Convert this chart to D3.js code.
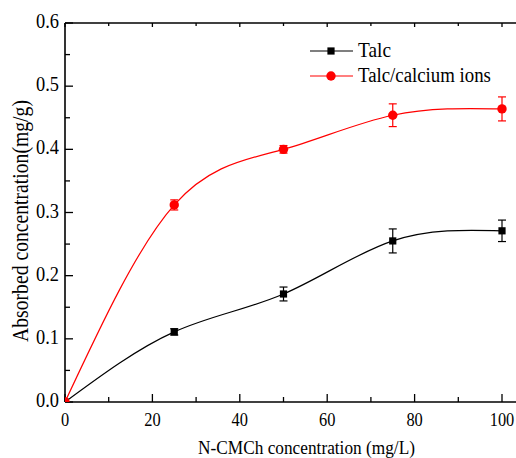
<!DOCTYPE html>
<html>
<head>
<meta charset="utf-8">
<script src="https://cdn.jsdelivr.net/npm/d3@7/dist/d3.min.js"></script>
<style>
  body { margin: 0; background: #fff; }
  svg { display: block; }
  text { font-family: 'Times New Roman', 'Liberation Serif', Tinos, 'DejaVu Serif', serif; }
</style>
</head>
<body>
<svg id="chart" width="516" height="458"></svg>
<script>
const concentrations = [0, 25, 50, 75, 100];
const talcValues = [0, 0.111, 0.171, 0.255, 0.271];
const talcErrors = [0, 0.005, 0.011, 0.019, 0.017];
const calciumValues = [0, 0.312, 0.400, 0.454, 0.464];
const calciumErrors = [0, 0.008, 0.006, 0.018, 0.019];
const seriesNames = ["Talc", "Talc/calcium ions"];
const xTicks = [0, 20, 40, 60, 80, 100];
const yTicks = [0.0, 0.1, 0.2, 0.3, 0.4, 0.5, 0.6];

(function () {
const FONT = "'Times New Roman', 'Liberation Serif', Tinos, 'DejaVu Serif', serif";
const STRETCH = 1.12;
const svg = d3.select("#chart");
const pLeft = 65, pTop = 23, pBottom = 402, xEnd = 502;
const x = d3.scaleLinear().domain([0, 100]).range([pLeft, xEnd]);
const y = d3.scaleLinear().domain([0, 0.6]).range([pBottom, pTop]);
const rightEdge = 530;

// place text at (tx,ty) with rotation and vertical stretch, fitted to a target width
function addText(str, tx, ty, opts) {
  const o = Object.assign({ anchor: "start", size: 18, rotate: 0, width: null }, opts || {});
  const g = svg.append("g").attr("transform", `translate(${tx},${ty}) rotate(${o.rotate}) scale(1,${STRETCH})`);
  const t = g.append("text").attr("font-family", FONT).attr("font-size", o.size)
    .attr("text-anchor", o.anchor).attr("fill", "#000").text(str);
  if (o.width) {
    const len = t.node().getComputedTextLength();
    if (len > 0) t.attr("font-size", o.size * o.width / len);
  }
  return t;
}

svg.append("defs").append("clipPath").attr("id", "clip")
  .append("rect").attr("x", pLeft).attr("y", pTop).attr("width", rightEdge - pLeft).attr("height", pBottom - pTop);

svg.append("line").attr("x1", pLeft).attr("x2", rightEdge).attr("y1", pBottom).attr("y2", pBottom).attr("stroke", "#000").attr("stroke-width", 1.6);
svg.append("line").attr("x1", pLeft).attr("x2", rightEdge).attr("y1", pTop).attr("y2", pTop).attr("stroke", "#000").attr("stroke-width", 1.6);
svg.append("line").attr("x1", pLeft).attr("x2", pLeft).attr("y1", pTop).attr("y2", pBottom).attr("stroke", "#000").attr("stroke-width", 1.6);

const minorX = d3.range(10, 110, 20);
const minorY = d3.range(0.05, 0.6, 0.1);
const tg = svg.append("g").attr("stroke", "#000").attr("stroke-width", 1.3);
xTicks.forEach(v => {
  tg.append("line").attr("x1", x(v)).attr("x2", x(v)).attr("y1", pBottom).attr("y2", pBottom - 8);
  tg.append("line").attr("x1", x(v)).attr("x2", x(v)).attr("y1", pTop).attr("y2", pTop + 4);
});
minorX.forEach(v => {
  tg.append("line").attr("x1", x(v)).attr("x2", x(v)).attr("y1", pBottom).attr("y2", pBottom - 5);
  tg.append("line").attr("x1", x(v)).attr("x2", x(v)).attr("y1", pTop).attr("y2", pTop + 3);
});
yTicks.forEach(v => {
  tg.append("line").attr("x1", pLeft).attr("x2", pLeft + 8).attr("y1", y(v)).attr("y2", y(v));
});
minorY.forEach(v => {
  tg.append("line").attr("x1", pLeft).attr("x2", pLeft + 5).attr("y1", y(v)).attr("y2", y(v));
});

// tick labels: "0.0" is ~23px wide in the reference
xTicks.forEach(v => addText(String(v), x(v), 426, { anchor: "middle", size: 18, width: String(v).length * 8.2 }));
yTicks.forEach(v => addText(v.toFixed(1), 59, y(v) + 5, { anchor: "end", size: 18, width: 23 }));

// axis titles
addText("N-CMCh concentration (mg/L)", 306.5, 454, { anchor: "middle", size: 18, width: 217 });
addText("Absorbed concentration(mg/g)", 28, 221, { anchor: "middle", size: 18, rotate: -90, width: 242 });

const series = [
  { name: seriesNames[0], values: talcValues, errors: talcErrors, color: "#000000", shape: "square", lw: 33 },
  { name: seriesNames[1], values: calciumValues, errors: calciumErrors, color: "#ff0000", shape: "circle", lw: 133 }
];

const line = d3.line().x(d => x(d[0])).y(d => y(d[1])).curve(d3.curveNatural);
const plot = svg.append("g").attr("clip-path", "url(#clip)");

series.forEach(s => {
  const pts = concentrations.map((c, i) => [c, s.values[i]]);
  plot.append("path").datum(pts).attr("d", line).attr("fill", "none")
    .attr("stroke", s.color).attr("stroke-width", 1.2);
  concentrations.forEach((c, i) => {
    const e = s.errors[i];
    if (e <= 0) return;
    const g = plot.append("g").attr("stroke", s.color).attr("stroke-width", 1.2);
    g.append("line").attr("x1", x(c)).attr("x2", x(c)).attr("y1", y(s.values[i] - e)).attr("y2", y(s.values[i] + e));
    g.append("line").attr("x1", x(c) - 4).attr("x2", x(c) + 4).attr("y1", y(s.values[i] - e)).attr("y2", y(s.values[i] - e));
    g.append("line").attr("x1", x(c) - 4).attr("x2", x(c) + 4).attr("y1", y(s.values[i] + e)).attr("y2", y(s.values[i] + e));
  });
  concentrations.forEach((c, i) => {
    if (s.shape === "square") {
      plot.append("rect").attr("x", x(c) - 3.6).attr("y", y(s.values[i]) - 3.6).attr("width", 7.2).attr("height", 7.2).attr("fill", s.color);
    } else {
      plot.append("circle").attr("cx", x(c)).attr("cy", y(s.values[i])).attr("r", 4.7).attr("fill", s.color);
    }
  });
});

const legendRows = [51, 76];
series.forEach((s, i) => {
  const ly = legendRows[i];
  svg.append("line").attr("x1", 310).attr("x2", 353).attr("y1", ly).attr("y2", ly).attr("stroke", s.color).attr("stroke-width", 1.2);
  if (s.shape === "square") {
    svg.append("rect").attr("x", 327.4).attr("y", ly - 3.6).attr("width", 7.2).attr("height", 7.2).attr("fill", s.color);
  } else {
    svg.append("circle").attr("cx", 331).attr("cy", ly).attr("r", 4.7).attr("fill", s.color);
  }
  addText(s.name, 358, ly + 6, { anchor: "start", size: 18, width: s.lw });
});
})();
</script>
</body>
</html>
